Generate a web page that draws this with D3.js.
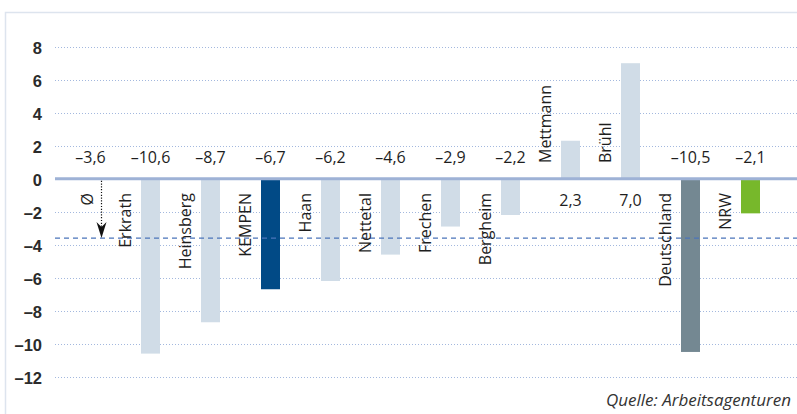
<!DOCTYPE html>
<html>
<head>
<meta charset="utf-8">
<script src="https://cdn.jsdelivr.net/npm/d3@7"></script>
<style>
  html, body { margin: 0; padding: 0; background: #fff; }
  svg { display: block; }
</style>
</head>
<body>
<svg id="chart" width="797" height="414"></svg>
<script>
// Veränderung der Arbeitslosigkeit in Prozent (Vorjahresvergleich)
const categories = ["Ø", "Erkrath", "Heinsberg", "KEMPEN", "Haan", "Nettetal",
                    "Frechen", "Bergheim", "Mettmann", "Brühl", "Deutschland", "NRW"];
const values = [-3.6, -10.6, -8.7, -6.7, -6.2, -4.6, -2.9, -2.2, 2.3, 7.0, -10.5, -2.1];
const valueLabels = ["–3,6", "–10,6", "–8,7", "–6,7", "–6,2", "–4,6", "–2,9", "–2,2",
                     "2,3", "7,0", "–10,5", "–2,1"];
const yTicks = [8, 6, 4, 2, 0, -2, -4, -6, -8, -10, -12];
const yTickLabels = ["8", "6", "4", "2", "0", "–2", "–4", "–6", "–8", "–10", "–12"];
const average = -3.6;
const source = "Quelle: Arbeitsagenturen";

const barColor = {
  "KEMPEN": "#014a86",
  "Deutschland": "#748892",
  "NRW": "#77b82b"
};
const defaultBar = "#d0dce7";

const svg = d3.select("#chart");
const textFont = "'Open Sans', 'Noto Sans', sans-serif";

// frame
svg.append("rect")
  .attr("x", 5.5).attr("y", 12.5)
  .attr("width", 797).attr("height", 420)
  .attr("fill", "none")
  .attr("stroke", "#dde4ee")
  .attr("stroke-width", 1.5);

const x = d3.scaleBand().domain(categories).range([60.5, 780.5]).padding(0);
const y = d3.scaleLinear().domain([-12, 8]).range([376.7, 46.7]);
const cx = c => x(c) + x.bandwidth() / 2;
const barW = 19;
const gridX0 = 55, gridX1 = 797;

// dotted grid lines
svg.append("g").selectAll("line")
  .data(yTicks.filter(t => t !== 0))
  .join("line")
  .attr("x1", gridX0).attr("x2", gridX1)
  .attr("y1", d => Math.round(y(d)) + 0.5).attr("y2", d => Math.round(y(d)) + 0.5)
  .attr("stroke", "#a3b8de")
  .attr("stroke-width", 1)
  .attr("stroke-dasharray", "1,2");

// y tick labels
svg.append("g").selectAll("text")
  .data(yTicks)
  .join("text")
  .attr("x", 42)
  .attr("y", d => y(d) + 1.5)
  .attr("dy", "0.35em")
  .attr("text-anchor", "end")
  .attr("font-family", "'Liberation Sans', Arial, sans-serif")
  .attr("font-weight", "bold")
  .attr("font-size", 16.5)
  .attr("fill", "#2b2b2b")
  .text((d, i) => yTickLabels[i]);

// bars (the average slot carries no bar)
const barData = categories.map((c, i) => ({ c, v: values[i], label: valueLabels[i], i }));
svg.append("g").selectAll("rect")
  .data(barData.filter(d => d.i > 0))
  .join("rect")
  .attr("x", d => cx(d.c) - barW / 2)
  .attr("width", barW)
  .attr("y", d => y(Math.max(0, d.v)))
  .attr("height", d => Math.abs(y(d.v) - y(0)))
  .attr("fill", d => barColor[d.c] || defaultBar);

// average line
svg.append("line")
  .attr("x1", gridX0).attr("x2", gridX1)
  .attr("y1", y(average)).attr("y2", y(average))
  .attr("stroke", "#4b74ba")
  .attr("stroke-width", 1.2)
  .attr("stroke-dasharray", "5,4");

// zero line
svg.append("line")
  .attr("x1", gridX0).attr("x2", gridX1)
  .attr("y1", y(0)).attr("y2", y(0))
  .attr("stroke", "#9eb2d6")
  .attr("stroke-width", 3);

// value labels: above the zero line for negative values, below for positive
svg.append("g").selectAll("text")
  .data(barData)
  .join("text")
  .attr("x", d => cx(d.c))
  .attr("y", d => d.v < 0 ? 163 : 206)
  .attr("text-anchor", "middle")
  .attr("font-family", textFont)
  .attr("font-size", 16)
  .attr("fill", "#1e1e1e")
  .text(d => d.label);

// rotated category labels
svg.append("g").selectAll("text")
  .data(barData)
  .join("text")
  .attr("transform", d => {
    const bx = d.i === 0 ? cx(d.c) + 2 : cx(d.c) - barW / 2 - 10;
    const by = d.v < 0 ? 193 : 163;
    return `translate(${bx},${by}) rotate(-90)`;
  })
  .attr("text-anchor", d => d.v < 0 ? "end" : "start")
  .attr("font-family", textFont)
  .attr("font-size", 16)
  .attr("fill", "#1e1e1e")
  .text(d => d.c);

// dotted arrow from the zero line down to the average
const ax = cx(categories[0]) + 11;
const tipY = y(average);
svg.append("line")
  .attr("x1", ax).attr("x2", ax)
  .attr("y1", y(0) + 2).attr("y2", tipY - 10)
  .attr("stroke", "#111")
  .attr("stroke-width", 1.2)
  .attr("stroke-dasharray", "1.2,1.6");
svg.append("path")
  .attr("d", `M${ax},${tipY} L${ax - 5},${tipY - 16} L${ax},${tipY - 11} L${ax + 5},${tipY - 16} Z`)
  .attr("fill", "#111");

// source note
svg.append("text")
  .attr("x", 791)
  .attr("y", 406)
  .attr("text-anchor", "end")
  .attr("font-family", textFont)
  .attr("font-style", "italic")
  .attr("font-size", 17)
  .attr("fill", "#333")
  .text(source);
</script>
</body>
</html>
